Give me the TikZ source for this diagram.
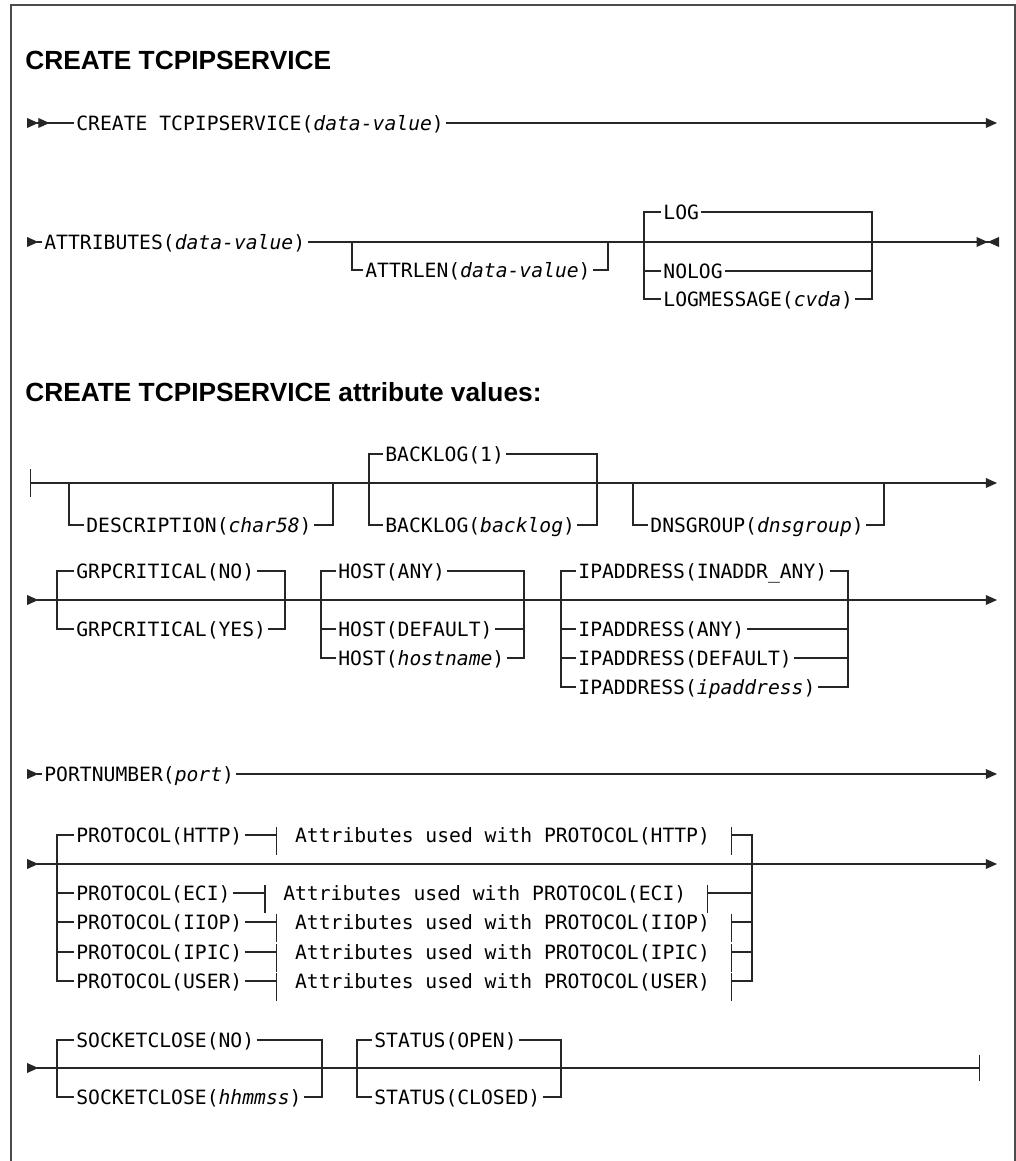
\documentclass[tikz,border=0pt]{standalone}
\usepackage{fontspec}
\newfontfamily\railfont{DejaVu Sans Mono}
\newfontfamily\headfont{Liberation Sans}
\usetikzlibrary{arrows.meta,positioning}
\newcommand{\param}[1]{\textit{#1}}

\tikzset{
  tri/.tip={Triangle[length=8pt,width=7pt]},
  rtri/.tip={Triangle[reversed,length=8pt,width=7pt]}
}

\begin{document}
\begin{tikzpicture}[x=0.025cm, y=-0.025cm,
  rail/.style={line width=0.75pt, draw=black!85},
  kw/.style={font=\railfont\fontsize{14}{16}\selectfont, anchor=west, inner xsep=1.5pt, inner ysep=0pt, text height=10.2pt, text depth=0pt},
  hd/.style={font=\headfont\bfseries\fontsize{18.7}{22}\selectfont, anchor=base west, inner sep=0pt}
]
\useasboundingbox (0,0) rectangle (1016,1161);
\draw[line width=1.2pt, black!70] (11,1161) |- (1015,5) -- (1015,1161);

\node[hd] (head) at (25,70) {CREATE TCPIPSERVICE};
\node[hd] (headattr) at (25,401) {CREATE TCPIPSERVICE attribute values:};

% create
\coordinate (a0) at (27,123);
\coordinate (a9) at (997,123);
\node[kw] (create) at (74,123) {CREATE TCPIPSERVICE(\param{data-value})};
\draw[rail, {rtri[]rtri[]}-] (a0) -- (create.west);
\draw[rail, -tri] (create.east) -- (a9);

% attributes
\coordinate (b0) at (27,242);
\coordinate (b9) at (999,242);
\node[kw] (attrs) at (42,242) {ATTRIBUTES(\param{data-value})};
\draw[rail, rtri-] (b0) -- (attrs.west);
\draw[rail, -{tri[]rtri[]}] (attrs.east) -- (b9);
\coordinate (len1) at (352,242);
\coordinate (len2) at (608,242);
\node[kw] (attrlen) at (363,270) {ATTRLEN(\param{data-value})};
\draw[rail] (len1) |- (attrlen.west) (attrlen.east) -| (len2);
\coordinate (log1) at (644,242);
\coordinate (log2) at (872,242);
\node[kw] (log) at (661,212) {LOG};
\node[kw] (nolog) at (661,271) {NOLOG};
\node[kw] (logmsg) at (661,299) {LOGMESSAGE(\param{cvda})};
\foreach \n in {log,nolog,logmsg}
  \draw[rail] (log1) |- (\n.west) (\n.east) -| (log2);

% attribute values: description, backlog, dnsgroup
\coordinate (c0) at (30,483);
\coordinate (c9) at (997,483);
\draw[rail, {Bar[width=20pt]}-tri] (c0) -- (c9);
\coordinate (desc1) at (69,483);
\coordinate (desc2) at (333,483);
\node[kw] (desc) at (84,525) {DESCRIPTION(\param{char58})};
\draw[rail] (desc1) |- (desc.west) (desc.east) -| (desc2);
\coordinate (blog1) at (369,483);
\coordinate (blog2) at (597,483);
\node[kw] (blogone) at (383,454) {BACKLOG(1)};
\node[kw] (blogvar) at (383,525) {BACKLOG(\param{backlog})};
\foreach \n in {blogone,blogvar}
  \draw[rail] (blog1) |- (\n.west) (\n.east) -| (blog2);
\coordinate (dns1) at (633,483);
\coordinate (dns2) at (884,483);
\node[kw] (dns) at (648,525) {DNSGROUP(\param{dnsgroup})};
\draw[rail] (dns1) |- (dns.west) (dns.east) -| (dns2);

% grpcritical, host, ipaddress
\coordinate (d0) at (27,600);
\coordinate (d9) at (997,600);
\draw[rail, rtri-tri] (d0) -- (d9);
\coordinate (grp1) at (57,600);
\coordinate (grp2) at (285,600);
\node[kw] (grpno) at (74,571) {GRPCRITICAL(NO)};
\node[kw] (grpyes) at (74,629) {GRPCRITICAL(YES)};
\foreach \n in {grpno,grpyes}
  \draw[rail] (grp1) |- (\n.west) (\n.east) -| (grp2);
\coordinate (host1) at (321,600);
\coordinate (host2) at (524,600);
\node[kw] (hostany) at (336,571) {HOST(ANY)};
\node[kw] (hostdef) at (336,629) {HOST(DEFAULT)};
\node[kw] (hostvar) at (336,658) {HOST(\param{hostname})};
\foreach \n in {hostany,hostdef,hostvar}
  \draw[rail] (host1) |- (\n.west) (\n.east) -| (host2);
\coordinate (ip1) at (561,600);
\coordinate (ip2) at (848,600);
\node[kw] (ipinaddr) at (576,571) {IPADDRESS(INADDR\_ANY)};
\node[kw] (ipany) at (576,629) {IPADDRESS(ANY)};
\node[kw] (ipdef) at (576,658) {IPADDRESS(DEFAULT)};
\node[kw] (ipvar) at (576,687) {IPADDRESS(\param{ipaddress})};
\foreach \n in {ipinaddr,ipany,ipdef,ipvar}
  \draw[rail] (ip1) |- (\n.west) (\n.east) -| (ip2);

% portnumber
\coordinate (e0) at (27,774);
\coordinate (e9) at (997,774);
\node[kw] (port) at (42,774) {PORTNUMBER(\param{port})};
\draw[rail, rtri-] (e0) -- (port.west);
\draw[rail, -tri] (port.east) -- (e9);

% protocol
\coordinate (f0) at (27,864);
\coordinate (f9) at (997,864);
\draw[rail, rtri-tri] (f0) -- (f9);
\coordinate (prot1) at (57,864);
\coordinate (prot2) at (752,864);
\node[kw] (phttp) at (74,835) {PROTOCOL(HTTP)};
\node[kw] (peci) at (74,893) {PROTOCOL(ECI)};
\node[kw] (piiop) at (74,922) {PROTOCOL(IIOP)};
\node[kw] (pipic) at (74,952) {PROTOCOL(IPIC)};
\node[kw] (puser) at (74,981) {PROTOCOL(USER)};
\node[kw, right=1.2cm of phttp] (ahttp) {Attributes used with PROTOCOL(HTTP)};
\node[kw, right=1.2cm of peci] (aeci) {Attributes used with PROTOCOL(ECI)};
\node[kw, right=1.2cm of piiop] (aiiop) {Attributes used with PROTOCOL(IIOP)};
\node[kw, right=1.2cm of pipic] (aipic) {Attributes used with PROTOCOL(IPIC)};
\node[kw, right=1.2cm of puser] (auser) {Attributes used with PROTOCOL(USER)};
\foreach \n in {http,eci,iiop,ipic,user} {
  \draw[rail] (prot1) |- (p\n.west);
  \draw[rail] (p\n.east) -- ([xshift=-11.3pt]a\n.west);
  \draw[rail] ([xshift=-11.3pt,yshift=5.7pt]a\n.west) -- ([xshift=-11.3pt,yshift=-14.2pt]a\n.west);
  \draw[rail] ([xshift=13.5pt,yshift=5.7pt]a\n.east) -- ([xshift=13.5pt,yshift=-14.2pt]a\n.east);
  \draw[rail] ([xshift=13.5pt]a\n.east) -| (prot2);
}

% socketclose, status
\coordinate (g0) at (27,1068);
\coordinate (g9) at (980,1068);
\draw[rail, rtri-{Bar[width=19pt]}] (g0) -- (g9);
\coordinate (sock1) at (57,1068);
\coordinate (sock2) at (322,1068);
\node[kw] (sockno) at (74,1040) {SOCKETCLOSE(NO)};
\node[kw] (sockvar) at (74,1097) {SOCKETCLOSE(\param{hhmmss})};
\foreach \n in {sockno,sockvar}
  \draw[rail] (sock1) |- (\n.west) (\n.east) -| (sock2);
\coordinate (stat1) at (357,1068);
\coordinate (stat2) at (561,1068);
\node[kw] (statopen) at (372,1040) {STATUS(OPEN)};
\node[kw] (statclosed) at (372,1097) {STATUS(CLOSED)};
\foreach \n in {statopen,statclosed}
  \draw[rail] (stat1) |- (\n.west) (\n.east) -| (stat2);
\end{tikzpicture}
\end{document}
